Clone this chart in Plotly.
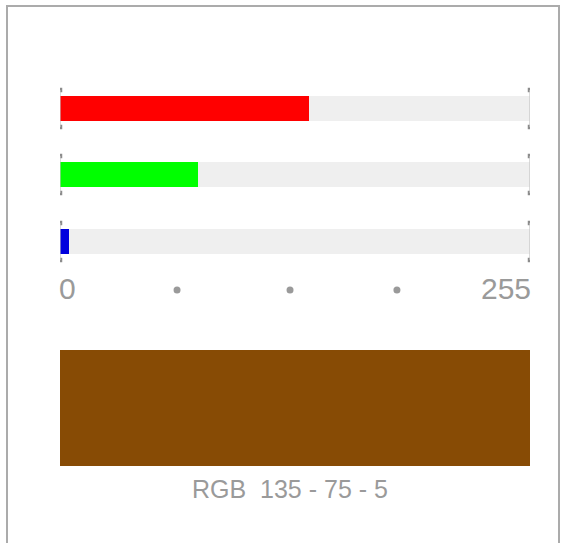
import plotly.graph_objects as go

# Colour channels shown as sliders
channels = ["R", "G", "B"]
values = [135, 75, 5]
bar_colors = ["#ff0000", "#00ff00", "#0000dd"]
scale_max = 255
scale_labels = ["0", "255"]
dot_ticks = [63.5, 124.8, 182.8]

W, H = 566, 543
X0, X1 = 60, 530            # slider track extent in pixels
bar_centers = [108.5, 174.5, 241.5]
bar_h = 25
cap_half = 18.5
swatch_center, swatch_h = 408, 116
grey = "#9a9a9a"
font = "Liberation Sans, Arial, sans-serif"

fig = go.Figure()

# background tracks
fig.add_trace(go.Bar(
    y=bar_centers, x=[scale_max] * 3, orientation="h", width=bar_h,
    marker=dict(color="#efefef", line=dict(width=0)), hoverinfo="skip",
))
# channel values
fig.add_trace(go.Bar(
    y=bar_centers, x=values, orientation="h", width=bar_h,
    marker=dict(color=bar_colors, line=dict(width=0)),
    text=channels, hoverinfo="x",
    textposition="none",
))
# swatch of the resulting colour
swatch = "rgb({}, {}, {})".format(*values)
fig.add_trace(go.Bar(
    y=[swatch_center], x=[scale_max], orientation="h", width=swatch_h,
    marker=dict(color=swatch, line=dict(width=0)), hoverinfo="skip",
))

# end caps on each track
shapes = []
cap_x, cap_y = [], []
for c in bar_centers:
    for xv in (0, scale_max):
        shapes.append(dict(type="line", xref="x", yref="y",
                           x0=xv, x1=xv, y0=c - cap_half, y1=c + cap_half,
                           line=dict(color="#c4c4c4", width=1.2), layer="above"))
        cap_x += [xv, xv]
        cap_y += [c - cap_half, c + cap_half]
fig.add_trace(go.Scatter(
    x=cap_x, y=cap_y, mode="markers", hoverinfo="skip",
    marker=dict(symbol="square", size=4.5, color="#8c8c8c", line=dict(width=0)),
))

# scale dots
fig.add_trace(go.Scatter(
    x=dot_ticks, y=[290] * len(dot_ticks), mode="markers", hoverinfo="skip",
    marker=dict(size=7, color=grey, line=dict(width=0)),
))

# outer frame
shapes.append(dict(type="rect", xref="paper", yref="paper",
                   x0=7 / W, x1=559 / W, y0=-0.05, y1=1 - 6 / H,
                   line=dict(color="#ababab", width=2), fillcolor="rgba(0,0,0,0)"))

annotations = [
    dict(x=0, y=288, xref="x", yref="y", text=scale_labels[0], showarrow=False,
         xanchor="left", yanchor="middle", xshift=-3,
         font=dict(size=30, color=grey, family=font)),
    dict(x=scale_max, y=288, xref="x", yref="y", text=scale_labels[1], showarrow=False,
         xanchor="right", yanchor="middle", xshift=3,
         font=dict(size=30, color=grey, family=font)),
    dict(x=scale_max / 2, y=489, xref="x", yref="y",
         text="RGB\u00a0 {}\u00a0-\u00a0{}\u00a0-\u00a0{}".format(*values), showarrow=False,
         xanchor="center", yanchor="middle", xshift=-5,
         font=dict(size=25, color=grey, family=font)),
]

fig.update_layout(
    width=W, height=H,
    margin=dict(l=0, r=0, t=0, b=0),
    paper_bgcolor="white", plot_bgcolor="white",
    barmode="overlay", bargap=0,
    showlegend=False,
    shapes=shapes,
    annotations=annotations,
    xaxis=dict(domain=[X0 / W, X1 / W], range=[0, scale_max], visible=False,
               fixedrange=True),
    yaxis=dict(domain=[0, 1], range=[H, 0], visible=False, fixedrange=True),
)

fig.write_html("out.html", config={"displayModeBar": False})
